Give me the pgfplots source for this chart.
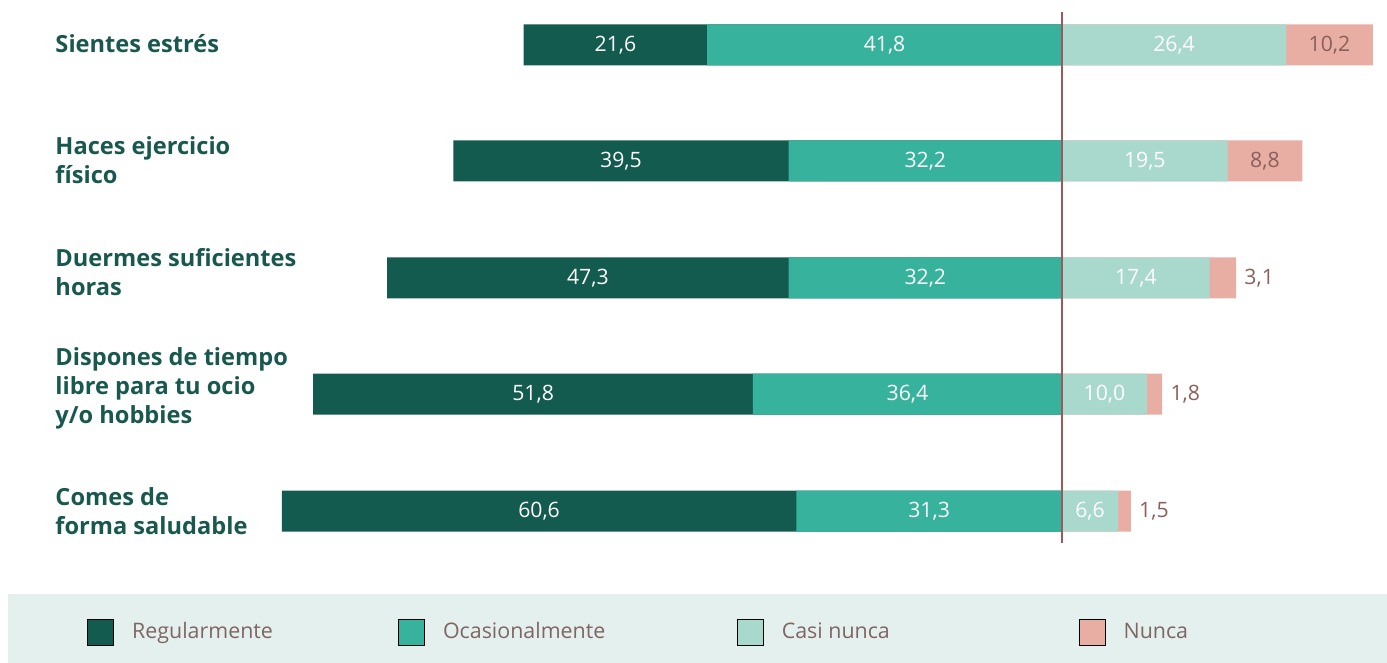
\documentclass[border=0pt]{standalone}
\usepackage{pgfplots}
\pgfplotsset{compat=1.18}
\usepackage{pgfplotstable}
\usepackage{fontspec}
\setmainfont{Open Sans}
\definecolor{cdark}{HTML}{135A4F}
\definecolor{cteal}{HTML}{36B29D}
\definecolor{clight}{HTML}{A9D8CD}
\definecolor{cpink}{HTML}{E9AEA3}
\definecolor{labgreen}{HTML}{18584E}
\definecolor{brownt}{HTML}{8A5F5C}
\definecolor{cline}{HTML}{9B5A5A}
\definecolor{legbg}{HTML}{E4F0EE}
\definecolor{legtext}{HTML}{7E6664}

\pgfplotstableread{
y   R    O    C    N
45  21.6 41.8 26.4 10.2
161 39.5 32.2 19.5 8.8
278 47.3 32.2 17.4 3.1
394 51.8 36.4 10.0 1.8
511 60.6 31.3 6.6  1.5
}\data

\begin{document}
\begin{tikzpicture}
\begin{axis}[
  scale only axis,
  width=693.5pt, height=331.5pt,
  xmin=-125.09, xmax=38.28,
  ymin=0, ymax=663,
  y dir=reverse,
  hide axis,
  clip=false,
  legend columns=4,
  legend cell align=left,
  legend image code/.code={\fill[#1] (0pt,-6.5pt) rectangle (13pt,6.5pt);},
  legend style={at={(axis cs:-114.84,632)}, anchor=west, draw=none, fill=none,
    inner sep=0pt, nodes={inner sep=0pt}, font=\fontsize{10.7}{12}\selectfont, text=legtext},
  vlab/.style={draw=none, mark=none, forget plot, nodes near coords={\pgfmathprintnumber[fixed,fixed zerofill,precision=1,use comma,assume math mode=true]{\pgfplotspointmeta}},
    point meta=explicit,
    every node near coord/.append style={anchor=center, font=\fontsize{10.6}{12}\selectfont, inner sep=0pt}},
]
\fill[legbg] (axis cs:-124.15,594) rectangle (axis cs:38.28,663);

% left side
\addplot[xbar, bar shift=0pt, bar width=41, fill=cdark, draw=none, forget plot]
  table[x expr=-\thisrow{R}-\thisrow{O}, y=y] {\data};
\addplot[xbar, bar shift=0pt, bar width=41, fill=cteal, draw=none, forget plot]
  table[x expr=-\thisrow{O}, y=y] {\data};
% right side
\addplot[xbar, bar shift=0pt, bar width=41, fill=cpink, draw=none, forget plot]
  table[x expr=\thisrow{C}+\thisrow{N}, y=y] {\data};
\addplot[xbar, bar shift=0pt, bar width=41, fill=clight, draw=none, forget plot]
  table[x=C, y=y] {\data};

% value labels
\addplot[vlab, every node near coord/.append style={text=white}]
  table[x expr=-\thisrow{O}-\thisrow{R}/2, y=y, meta=R] {\data};
\addplot[vlab, every node near coord/.append style={text=white}]
  table[x expr=-\thisrow{O}/2, y=y, meta=O] {\data};
\addplot[vlab, every node near coord/.append style={text=white}]
  table[x expr=\thisrow{C}/2, y=y, meta=C] {\data};
\addplot[vlab, skip coords between index={2}{5}, every node near coord/.append style={text=brownt}]
  table[x expr=\thisrow{C}+\thisrow{N}/2, y=y, meta=N] {\data};
\addplot[vlab, skip coords between index={0}{2}, every node near coord/.append style={text=brownt, anchor=west, xshift=4pt}]
  table[x expr=\thisrow{C}+\thisrow{N}, y=y, meta=N] {\data};

\draw[cline, line width=1pt] (axis cs:0,12) -- (axis cs:0,543);

% category labels
\begin{scope}[every node/.style={anchor=west, align=left, inner sep=0pt, text=labgreen,
   font=\bfseries\fontsize{11.8}{14.5}\selectfont}]
\node at (axis cs:-118.6,44) {Sientes estrés};
\node at (axis cs:-118.6,160) {Haces ejercicio\\físico};
\node at (axis cs:-118.6,272) {Duermes suficientes\\horas};
\node at (axis cs:-118.6,388) {Dispones de tiempo\\libre para tu ocio\\y/o hobbies};
\node at (axis cs:-118.6,511) {Comes de\\forma saludable};
\end{scope}

\addlegendimage{fill=cdark}
\addlegendentry{\hspace{9pt}\makebox[133pt][l]{Regularmente}}
\addlegendimage{fill=cteal}
\addlegendentry{\hspace{9pt}\makebox[147pt][l]{Ocasionalmente}}
\addlegendimage{fill=clight}
\addlegendentry{\hspace{9pt}\makebox[148.5pt][l]{Casi nunca}}
\addlegendimage{fill=cpink}
\addlegendentry{\hspace{9pt}Nunca}
\end{axis}
\pgfresetboundingbox
\path (current axis.south west) (current axis.north east);
\end{tikzpicture}
\end{document}
